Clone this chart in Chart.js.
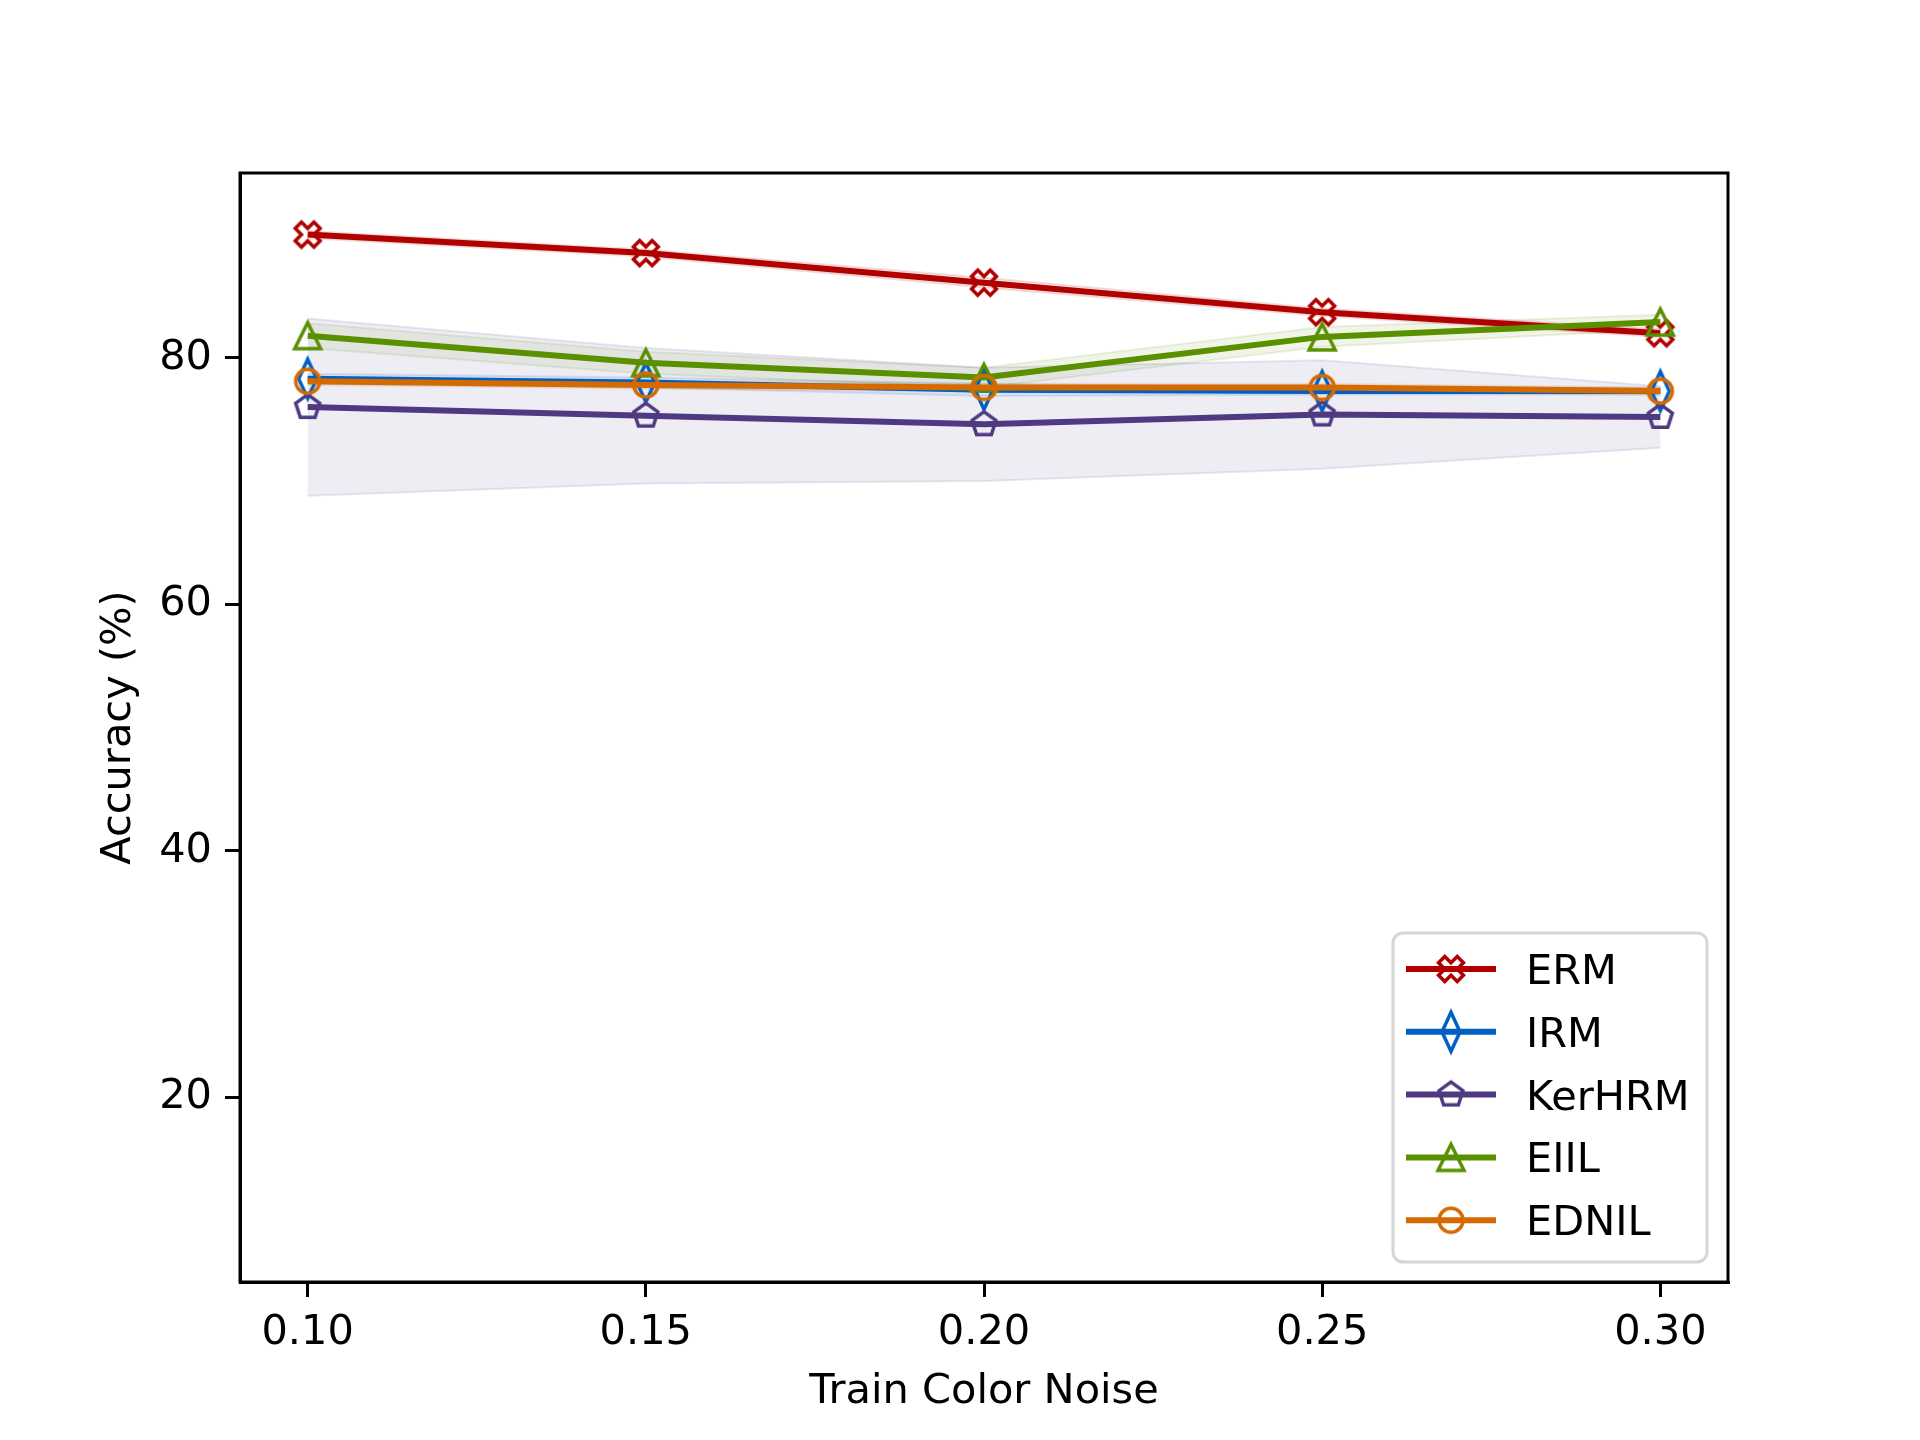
<!DOCTYPE html>
<html>
<head>
<meta charset="utf-8">
<script src="https://cdn.jsdelivr.net/npm/chart.js@4.4.1/dist/chart.umd.min.js"></script>
<style>
  html, body { margin: 0; padding: 0; background: #fff; }
  #grafico { display: block; }
</style>
</head>
<body>
<canvas id="grafico" width="1920" height="1440" style="width:1920px;height:1440px"></canvas>
<script>
// dados
const noise = [0.10, 0.15, 0.20, 0.25, 0.30]
const xTicks = [0.10, 0.15, 0.20, 0.25, 0.30]
const yTicks = [20, 40, 60, 80]

const methods = ['ERM', 'IRM', 'KerHRM', 'EIIL', 'EDNIL']

const ermMean = [90.0, 88.5, 86.1, 83.7, 82.0]
const ermStd = [0.3, 0.3, 0.4, 0.3, 0.3]
const irmMean = [78.3, 78.0, 77.4, 77.3, 77.3]
const irmStd = [0.4, 0.4, 0.5, 0.3, 0.3]
const kerMean = [76.0, 75.3, 74.6, 75.4, 75.2]
const kerStd = [7.2, 5.5, 4.6, 4.4, 2.5]
const eiilMean = [81.8, 79.6, 78.4, 81.7, 82.9]
const eiilStd = [1.0, 0.9, 0.8, 0.8, 0.6]
const ednilMean = [78.1, 77.8, 77.6, 77.6, 77.3]
const ednilStd = [0.3, 0.3, 0.3, 0.3, 0.3]

const cores = ['#b00000', '#005fc0', '#4f3a82', '#5a9000', '#d46a00']
const rgb = [[176, 0, 0], [0, 95, 192], [79, 58, 130], [90, 144, 0], [212, 106, 0]]
const marcadores = ['X', 'd', 'p', '^', 'o']

const medias = [ermMean, irmMean, kerMean, eiilMean, ednilMean]
const desvios = [ermStd, irmStd, kerStd, eiilStd, ednilStd]

const FONTE = 'DejaVu Sans'

// marcadores desenhados a mao (contorno, sem preenchimento)
function criaMarcador(tipo, cor) {
    const c = document.createElement('canvas')
    c.width = 48
    c.height = 48
    const g = c.getContext('2d')
    g.strokeStyle = cor
    g.lineWidth = 3.5
    g.lineJoin = 'miter'
    g.translate(24, 24)
    g.beginPath()
    if (tipo === 'o') {
        g.arc(0, 0, 12, 0, Math.PI * 2)
    } else if (tipo === '^') {
        g.moveTo(0, -13)
        g.lineTo(13, 13)
        g.lineTo(-13, 13)
        g.closePath()
    } else if (tipo === 'd') {
        g.moveTo(0, -19.5)
        g.lineTo(9, 0)
        g.lineTo(0, 19.5)
        g.lineTo(-9, 0)
        g.closePath()
    } else if (tipo === 'p') {
        for (let i = 0; i < 5; i++) {
            const a = -Math.PI / 2 + i * 2 * Math.PI / 5
            const px = 12.6 * Math.cos(a), py = 12.6 * Math.sin(a)
            if (i === 0) g.moveTo(px, py); else g.lineTo(px, py)
        }
        g.closePath()
    } else if (tipo === 'X') {
        const k = 4.4
        const pts = [[-1, -3], [1, -3], [1, -1], [3, -1], [3, 1], [1, 1], [1, 3], [-1, 3], [-1, 1], [-3, 1], [-3, -1], [-1, -1]]
        const r = Math.SQRT1_2
        pts.forEach((p, i) => {
            const px = (p[0] - p[1]) * r * k, py = (p[0] + p[1]) * r * k
            if (i === 0) g.moveTo(px, py); else g.lineTo(px, py)
        })
        g.closePath()
    }
    g.stroke()
    return c
}

const imgs = marcadores.map((m, i) => criaMarcador(m, cores[i]))

const datasets = []
// faixas de desvio
medias.forEach((m, i) => {
    const c = rgb[i]
    const faixa = 'rgba(' + c.join(',') + ',0.09)'
    const borda = 'rgba(' + c.join(',') + ',0.12)'
    datasets.push({
        label: methods[i] + ' low',
        data: noise.map((x, j) => ({ x: x, y: m[j] - desvios[i][j] })),
        borderColor: borda,
        borderWidth: 2,
        pointRadius: 0,
        fill: false,
        order: 100 + i
    })
    datasets.push({
        label: methods[i] + ' high',
        data: noise.map((x, j) => ({ x: x, y: m[j] + desvios[i][j] })),
        borderColor: borda,
        backgroundColor: faixa,
        borderWidth: 2,
        pointRadius: 0,
        fill: '-1',
        order: 100 + i
    })
})
// linhas
medias.forEach((m, i) => {
    datasets.push({
        label: methods[i],
        data: noise.map((x, j) => ({ x: x, y: m[j] })),
        borderColor: cores[i],
        borderWidth: 6,
        pointStyle: imgs[i],
        pointRadius: 12,
        fill: false,
        order: 50 - i * 10
    })
})

// caixa em volta + legenda no estilo matplotlib
const molduraLegenda = {
    id: 'molduraLegenda',
    afterDatasetsDraw(chart) {
        const { ctx, chartArea } = chart
        ctx.save()
        ctx.strokeStyle = '#000'
        ctx.lineWidth = 3
        ctx.strokeRect(chartArea.left, chartArea.top, chartArea.right - chartArea.left, chartArea.bottom - chartArea.top)

        // legenda
        const lx = 1393, ly = 933, lw = 314, lh = 329
        ctx.beginPath()
        ctx.roundRect(lx, ly, lw, lh, 10)
        ctx.fillStyle = 'rgba(255,255,255,0.8)'
        ctx.fill()
        ctx.strokeStyle = '#d6d6d6'
        ctx.lineWidth = 3
        ctx.stroke()

        methods.forEach((nome, i) => {
            const y = 969 + i * 62.8
            ctx.beginPath()
            ctx.strokeStyle = cores[i]
            ctx.lineWidth = 6
            ctx.moveTo(1406, y)
            ctx.lineTo(1496, y)
            ctx.stroke()
            ctx.drawImage(imgs[i], 1451 - 24, y - 24)
            ctx.fillStyle = '#000'
            ctx.font = '41.5px "' + FONTE + '"'
            ctx.textBaseline = 'alphabetic'
            ctx.textAlign = 'left'
            ctx.fillText(nome, 1526, y + 15)
        })
        ctx.restore()
    }
}

const ctx = document.getElementById('grafico').getContext('2d')

const grafico = new Chart(ctx, {
    type: 'line',
    data: { datasets: datasets },
    options: {
        responsive: false,
        devicePixelRatio: 1,
        animation: false,
        layout: {
            padding: { left: 0, right: 192, top: 173, bottom: 0 }
        },
        scales: {
            x: {
                type: 'linear',
                min: 0.09,
                max: 0.31,
                afterBuildTicks: (s) => { s.ticks = xTicks.map(v => ({ value: v })) },
                afterFit: (s) => { s.height = 158 },
                grid: {
                    drawOnChartArea: false,
                    drawTicks: true,
                    tickLength: 15,
                    lineWidth: 3,
                    color: '#000'
                },
                border: { display: true, color: '#000', width: 3 },
                ticks: {
                    color: '#000',
                    padding: 11,
                    maxRotation: 0,
                    font: { family: FONTE, size: 41.5 },
                    callback: (v) => v.toFixed(2)
                },
                title: {
                    display: true,
                    text: 'Train Color Noise',
                    color: '#000',
                    font: { family: FONTE, size: 41.5 },
                    padding: { top: 0, bottom: 23 }
                }
            },
            y: {
                type: 'linear',
                min: 5,
                max: 95,
                afterBuildTicks: (s) => { s.ticks = yTicks.map(v => ({ value: v })) },
                afterFit: (s) => { s.width = 240 },
                grid: {
                    drawOnChartArea: false,
                    drawTicks: true,
                    tickLength: 15,
                    lineWidth: 3,
                    color: '#000'
                },
                border: { display: true, color: '#000', width: 3 },
                ticks: {
                    color: '#000',
                    padding: 13,
                    font: { family: FONTE, size: 41.5 }
                },
                title: {
                    display: true,
                    text: 'Accuracy (%)',
                    color: '#000',
                    font: { family: FONTE, size: 41.5 },
                    padding: { top: 94, bottom: 0 }
                }
            }
        },
        plugins: {
            legend: { display: false },
            tooltip: { enabled: false }
        }
    },
    plugins: [molduraLegenda]
})
</script>
</body>
</html>
